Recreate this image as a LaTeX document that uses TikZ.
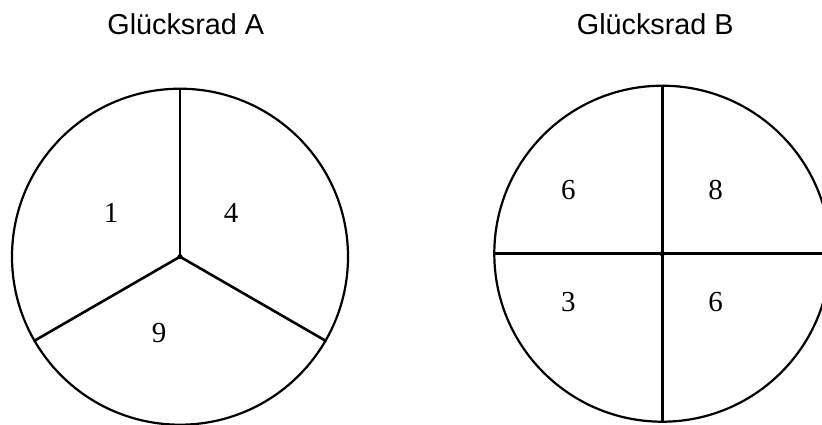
\documentclass[tikz,border=0pt]{standalone}
\usepackage{fontspec}
\setmainfont{Liberation Serif}
\newfontfamily\titlefont{Liberation Sans}
\begin{document}
\begin{tikzpicture}[x=1pt,y=-1pt,
  wheel/.style={draw, circle, minimum size=336pt, inner sep=0pt, line width=2.2pt},
  spoke/.style={line width=2.6pt},
  num/.style={font=\fontsize{29}{30}\selectfont, inner sep=0pt},
  ttl/.style={font=\titlefont\fontsize{28.8}{30}\selectfont, inner sep=0pt, anchor=base}]
\useasboundingbox (0,0) rectangle (822,424);
% Wheel A
\node[wheel] (cA) at (180,256.7) {};
\draw[spoke] (cA.center) -- (cA.90);
\draw[spoke] (cA.center) -- (cA.210);
\draw[spoke] (cA.center) -- (cA.330);
\fill (cA.center) circle (2.6);
\node[num] (a1) at (111,212.7) {1};
\node[num] (a4) at (231,212.7) {4};
\node[num] (a9) at (159,332.7) {9};
% Wheel B
\node[wheel] (cB) at (662.3,253.7) {};
\draw[spoke] (cB.90) -- (cB.270);
\draw[spoke] (cB.180) -- (cB.0);
\fill (cB.center) circle (2.6);
\node[num] (b6a) at (568.3,190) {6};
\node[num] (b8) at (715.7,190) {8};
\node[num] (b3) at (568.3,302.3) {3};
\node[num] (b6b) at (715.7,302.3) {6};
% Titles
\node[ttl] (tA) at (185.8,34.3) {Glücksrad A};
\node[ttl] (tB) at (655.3,34.3) {Glücksrad B};
\end{tikzpicture}
\end{document}
